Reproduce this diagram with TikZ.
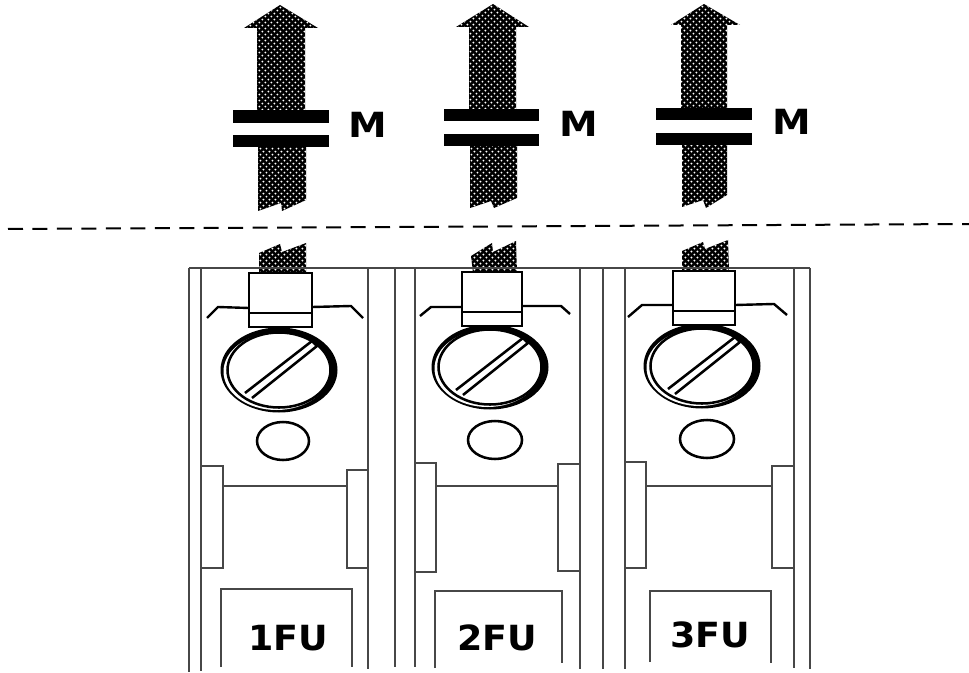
\documentclass[tikz,border=0pt]{standalone}
\usepackage{fontspec}
\setmainfont{DejaVu Sans}
\usetikzlibrary{patterns}
\pgfdeclarepatternformonly{stip}{\pgfpointorigin}{\pgfpoint{4.8pt}{4.8pt}}{\pgfpoint{4.8pt}{4.8pt}}{%
  \pgfpathcircle{\pgfpoint{1.2pt}{1.2pt}}{0.82pt}%
  \pgfpathcircle{\pgfpoint{3.6pt}{3.6pt}}{0.82pt}%
  \pgfusepath{fill}}
\tikzset{
  plate/.style={line width=1.5pt,draw=black!72},
  clampbox/.style={line width=2pt,draw=black,fill=white},
  wing/.style={line width=1.8pt,draw=black},
  ringline/.style={line width=1.9pt,draw=black},
  bar/.style={fill=black,draw=none},
  stipple/.style={preaction={fill=black},pattern=stip,pattern color=white,draw=none},
  lettering/.style={font=\bfseries\fontsize{26}{26}\selectfont,inner sep=0pt,text=black},
  dashline/.style={line width=1.5pt,draw=black,dash pattern=on 11.25pt off 7.1pt},
  pxgrid/.style={x=0.75pt,y=-0.75pt}
}
% cx, cy: screw centre
\newcommand{\screwhead}[2]{%
  \begin{scope}[shift={(#1,#2)}]
    \fill[black] (0,0) ellipse [x radius=58.5,y radius=42.5];
    \fill[white] (-2.5,1.5) ellipse [x radius=53,y radius=38.5];
    \draw[ringline,fill=white] (0,0) ellipse [x radius=51.5,y radius=37.5];
    \draw[ringline,fill=white] (-34,23) -- (33,-29) -- (38,-24) -- (-27,28);
  \end{scope}}
\begin{document}
\begin{tikzpicture}[pxgrid]
\useasboundingbox (0,0) rectangle (969,673);
\fill[white] (0,0) rectangle (969,673);

% arrows above the line
\fill[stipple] (257,110) -- (257,28) -- (244,28) -- (280,5) -- (318,28) -- (305,28) -- (305,110) -- cycle;
\fill[stipple] (258,147) -- (306,147) -- (306,200) -- (282,211) -- (281,203) -- (258,211) -- cycle;
\fill[bar] (233,110) rectangle (329,123);
\fill[bar] (233,135) rectangle (329,147);
\node[lettering,xscale=1.12] (m1) at (367.5,124.5) {M};

\fill[stipple] (469,109) -- (469,27) -- (456,27) -- (493,4) -- (529,27) -- (516,27) -- (516,109) -- cycle;
\fill[stipple] (470,146) -- (517,146) -- (517,198) -- (494,208) -- (491,201) -- (470,208) -- cycle;
\fill[bar] (444,109) rectangle (539,121);
\fill[bar] (444,134) rectangle (539,146);
\node[lettering,xscale=1.12] (m2) at (578.5,124) {M};

\fill[stipple] (681,108) -- (681,25) -- (671,25) -- (704,4) -- (740,25) -- (727,25) -- (727,108) -- cycle;
\fill[stipple] (682,145) -- (727,145) -- (727,195) -- (706,208) -- (703,200) -- (682,207) -- cycle;
\fill[bar] (655.5,108) rectangle (752,120);
\fill[bar] (655.5,133) rectangle (752,145);
\node[lettering,xscale=1.12] (m3) at (791.5,122) {M};

% dashed separator
\draw[dashline] (8,229) -- (969,224);

% stubs of the conductors
\fill[stipple] (259,273) -- (259,253) -- (280,244) -- (282,252) -- (306,243) -- (306,273) -- cycle;
\fill[stipple] (473,273) -- (471,256) -- (492,243) -- (493,252) -- (516,241) -- (517,273) -- cycle;
\fill[stipple] (682,272) -- (682,251) -- (703,242) -- (705,249) -- (728,240) -- (729,272) -- cycle;

% plates
\draw[plate] (189,268) -- (810,268);
\draw[plate] (189,268) -- (189,672);
\draw[plate] (201,268) -- (201,671);
\draw[plate] (367.5,268) -- (367.5,669);
\draw[plate] (395,268) -- (395,667);
\draw[plate] (415,268) -- (415,667);
\draw[plate] (580,268) -- (580,669);
\draw[plate] (603,268) -- (603,669);
\draw[plate] (625,268) -- (625,669);
\draw[plate] (794,268) -- (794,668);
\draw[plate] (810,268) -- (810,669);

% side tabs and cross lines
\draw[plate] (201,465.5) -- (223,465.5) -- (223,568) -- (201,568);
\draw[plate] (367.5,470) -- (347,470) -- (347,568) -- (367.5,568);
\draw[plate] (223,485.5) -- (347,485.5);
\draw[plate] (415,463) -- (435.5,463) -- (435.5,572) -- (415,572);
\draw[plate] (580,463.5) -- (558,463.5) -- (558,571) -- (580,571);
\draw[plate] (435.5,485.5) -- (558,485.5);
\draw[plate] (625,462) -- (646,462) -- (646,568) -- (625,568);
\draw[plate] (794,465.5) -- (772,465.5) -- (772,568) -- (794,568);
\draw[plate] (646,485.5) -- (772,485.5);

% label boxes
\draw[plate] (221,667) -- (221,589) -- (352,589) -- (352,667);
\draw[plate] (435,668) -- (435,591) -- (562,591) -- (562,663);
\draw[plate] (650,662) -- (650,591) -- (771,591) -- (771,663);
\node[lettering,xscale=1.05] (fu1) at (288,638) {1FU};
\node[lettering,xscale=1.05] (fu2) at (497.5,637.5) {2FU};
\node[lettering,xscale=1.05] (fu3) at (710,635) {3FU};

% clamp wings
\draw[wing] (207,318) -- (218,307) -- (249,308);
\draw[wing] (312,307) -- (351,306) -- (363,318);
\draw[wing] (420,316) -- (431,307) -- (462,307);
\draw[wing] (522,306) -- (561,306) -- (570,314);
\draw[wing] (628,317) -- (642,305) -- (673,305);
\draw[wing] (735,305) -- (774,304) -- (787,315);

% screws
\screwhead{279}{370}
\screwhead{490}{367}
\screwhead{702}{366}

% clamps
\draw[clampbox] (249,273) rectangle (312,327);
\draw[wing] (249,313) -- (312,313);
\draw[clampbox] (462,272) rectangle (522,326);
\draw[wing] (462,312) -- (522,312);
\draw[clampbox] (673,271) rectangle (735,325);
\draw[wing] (673,311) -- (735,311);

% small round holes
\draw[ringline] (283,441) ellipse [x radius=26,y radius=19];
\draw[ringline] (495,440) ellipse [x radius=27,y radius=19];
\draw[ringline] (707,439) ellipse [x radius=27,y radius=19];
\end{tikzpicture}
\end{document}
